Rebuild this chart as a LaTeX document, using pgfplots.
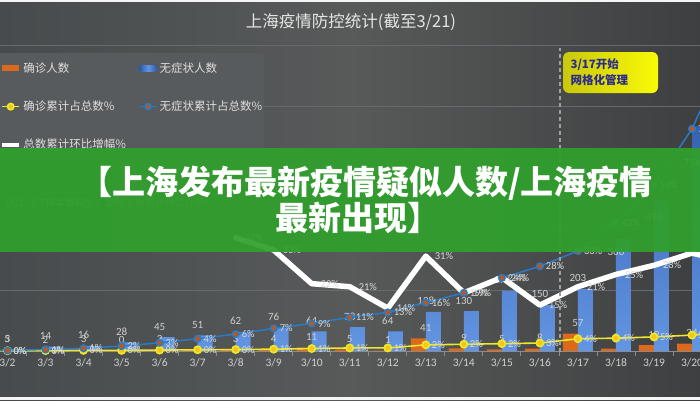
\documentclass[border=0pt]{standalone}
\usepackage{pgfplots}
\usepackage{pgfplotstable}
\pgfplotsset{compat=1.18}
\usepackage{fontspec}
\setmainfont{Carlito}
\newfontfamily\cjk{Noto Sans CJK SC}

\definecolor{bgA}{HTML}{474B4D}
\definecolor{bgB}{HTML}{585A5A}
\definecolor{bgC}{HTML}{3E3F40}
\definecolor{gridc}{HTML}{676A6C}
\definecolor{axc}{HTML}{8C8C8C}
\definecolor{txt}{HTML}{CFCFCF}
\definecolor{ptxt}{HTML}{DADADA}
\definecolor{legbg}{HTML}{575B5D}
\definecolor{legtxt}{HTML}{DEDEDE}
\definecolor{ttl}{HTML}{E4E4E4}
\definecolor{barO}{HTML}{DB6A1C}
\definecolor{barBt}{HTML}{2E5AA6}
\definecolor{barBb}{HTML}{6395E3}
\definecolor{lnY}{HTML}{EDE82A}
\definecolor{mkY}{HTML}{F6C51B}
\definecolor{lnB}{HTML}{2B7BC4}
\definecolor{mkB}{HTML}{C2561A}
\definecolor{banner}{HTML}{30A02C}
\definecolor{boxL}{HTML}{C9C80C}
\definecolor{boxR}{HTML}{FAFA05}
\definecolor{boxT}{HTML}{2B2B8F}
\definecolor{notec}{HTML}{9A9A9A}

\pgfplotstableread{
x conf asym dy
1 1 1 0
2 3 5 0
3 2 14 0
4 3 16 0
5 0 28 0
6 3 45 0
7 4 51 0
8 3 62 0
9 4 76 0
10 11 64 0
11 5 78 0
12 1 64 0
13 41 128 0
14 9 130 0
15 5 197 0
16 8 150 0
17 57 203 0
18 8 366 -24
19 19 492 -27
20 24 734 -47
21 31 865 0
}\bars

\pgfplotstableread{
x cp ap
1 0.02 0.02
2 0.1 0.15
3 0.15 0.5
4 0.2 0.9
5 0.2 1.6
6 0.3 2.7
7 0.4 4.0
8 0.47 5.5
9 0.6 7.4
10 0.8 9.0
11 1.0 11.0
12 1.0 12.6
13 2.0 15.8
14 2.2 19.0
15 2.4 23.9
16 2.6 27.7
17 4.0 32.7
18 4.2 41.9
19 4.6 54.1
20 5.2 72.6
21 6.0 100
}\pct

\pgfplotstableread{
x gr
8 37
9 33
10 22
11 21
12 14
13 31
14 19
15 24
16 15
17 21
18 25
19 28
20 32
21 29
}\growth

\begin{document}
\begin{tikzpicture}
\useasboundingbox (0pt,0pt) rectangle (700pt,400pt);
\clip (0pt,0pt) rectangle (700pt,400pt);
\shade[left color=bgA, right color=bgC, middle color=bgB] (0pt,0pt) rectangle (700pt,400pt);

\begin{axis}[
  at={(0pt,49pt)}, anchor=south west,
  width=700pt, height=306pt, scale only axis,
  xmin=1.803, xmax=20.21, ymin=0, ymax=1000,
  clip=false,
  axis x line*=bottom, axis y line*=left,
  y axis line style={draw=none},
  x axis line style={draw=axc, line width=0.8pt},
  xtick={2,...,20},
  xticklabels={3/2,3/3,3/4,3/5,3/6,3/7,3/8,3/9,3/10,3/11,3/12,3/13,3/14,3/15,3/16,3/17,3/18,3/19,3/20},
  minor xtick={1.5,2.5,...,20.5},
  ytick={0,200,...,1000}, yticklabels={},
  ymajorgrids, grid style={draw=gridc, line width=0.6pt},
  major tick length=0pt, minor tick length=5pt, tick align=outside,
  minor tick style={draw=axc, line width=0.8pt},
  xticklabel style={font=\fontsize{11.5}{13}\selectfont, text=txt, yshift=-4pt},
  legend columns=2,
  legend cell align=left,
  legend style={
    at={(axis description cs:0,0.975)}, anchor=north west,
    fill=legbg, draw=none,
    inner xsep=0pt, inner ysep=8pt,
    font=\cjk\fontsize{11.5}{13}\selectfont, text=legtxt,
    row sep=23pt,
    /tikz/every even column/.append style={column sep=11pt},
  },
]
\addplot[ybar, bar width=15pt, bar shift=-7.5pt, draw=none, fill=barO,
  legend image code/.code={\fill[barO] (0pt,-3pt) rectangle (17pt,3pt);},
  nodes near coords={\pgfmathprintnumber[assume math mode=true]{\pgfplotspointmeta}},
  point meta=y,
  every node near coord/.append style={anchor=south, yshift=3.5pt,
     font=\fontsize{11}{13}\selectfont, text=txt}]
  table[x=x,y=conf]{\bars};
\addlegendentry{确诊人数}
\addplot[ybar, bar width=15pt, bar shift=7.5pt, draw=none, top color=barBt, bottom color=barBb,
  legend image code/.code={\fill[left color=barBt, right color=barBt, middle color=barBb] (0pt,-3pt) rectangle (17pt,3pt);},
  nodes near coords={\pgfmathprintnumber[assume math mode=true]{\pgfplotspointmeta}},
  point meta=y,
  visualization depends on={\thisrow{dy}\as\dy},
  every node near coord/.append style={anchor=south, yshift=\dy pt+3.5pt,
     font=\fontsize{11}{13}\selectfont, text=txt}]
  table[x=x,y=asym]{\bars};
\addlegendentry{无症状人数}
\addlegendimage{line legend, draw=lnY, line width=1.6pt, mark=*, mark size=3.2pt, mark options={draw=none, fill=mkY}}
\addlegendentry{确诊累计占总数\%}
\addlegendimage{line legend, draw=lnB, line width=1.6pt, mark=*, mark size=3pt, mark options={draw=none, fill=mkB}}
\addlegendentry{无症状累计占总数\%}
\addlegendimage{line legend, draw=white, line width=4pt}
\addlegendentry{总数累计环比增幅\%}
\end{axis}

\begin{axis}[
  at={(0pt,49pt)}, anchor=south west,
  width=700pt, height=306pt, scale only axis,
  xmin=1.803, xmax=20.21, ymin=0, ymax=100,
  clip=false, hide axis,
]
\addplot[draw=lnY, line width=1.6pt, mark=*, mark size=3.6pt, mark options={draw=none, fill=mkY},
  nodes near coords={\pgfmathprintnumber[assume math mode=true,fixed,precision=0]{\pgfplotspointmeta}\%},
  point meta=y,
  every node near coord/.append style={anchor=west, xshift=2pt, font=\fontsize{10.5}{12}\selectfont, text=ptxt}]
  table[x=x,y=cp]{\pct};
\addplot[draw=lnB, line width=1.5pt, mark=*, mark size=3.3pt, mark options={draw=none, fill=mkB},
  nodes near coords={\pgfmathprintnumber[assume math mode=true,fixed,precision=0]{\pgfplotspointmeta}\%},
  point meta=y,
  every node near coord/.append style={anchor=west, xshift=2pt, font=\fontsize{10.5}{12}\selectfont, text=ptxt}]
  table[x=x,y=ap]{\pct};
\addplot[draw=white, line width=5.5pt, line join=round, line cap=round,
  nodes near coords={\pgfmathprintnumber[assume math mode=true,fixed,precision=0]{\pgfplotspointmeta}\%},
  point meta=y,
  every node near coord/.append style={anchor=west, xshift=3pt, font=\fontsize{10.5}{12}\selectfont, text=ptxt}]
  table[x=x,y=gr]{\growth};
\end{axis}

% 3/17 marker and annotation
\draw[draw=gray!75, line width=1.3pt, dash pattern=on 4pt off 3pt] (560pt,48pt) -- (560pt,352pt);
\shade[left color=boxL, right color=boxR, rounded corners=6pt] (563pt,307pt) rectangle (658pt,348pt);
\node[anchor=west, text=boxT, font=\cjk\bfseries\fontsize{11.5}{16}\selectfont, align=left] at (567pt,328pt) {3/17开始\\网格化管理};

% title
\node[text=ttl, font=\cjk\fontsize{16.5}{18}\selectfont] at (351pt,378pt) {上海疫情防控统计(截至3/21)};

% note under banner
\node[anchor=east, text=notec, font=\cjk\fontsize{10}{12}\selectfont] at (212pt,197pt) {(3/1\textasciitilde3/7样本数较少，忽略总数累计环比计算)};

% banner
\fill[banner, opacity=0.93] (0pt,148pt) rectangle (700pt,252pt);
\node[text=white, font=\cjk\bfseries\fontsize{33}{36}\selectfont] at (366pt,217pt) {【上海发布最新疫情疑似人数/上海疫情};
\node[text=white, font=\cjk\bfseries\fontsize{33}{36}\selectfont] at (358pt,182pt) {最新出现】};

% frame strips
\fill[white!92!gray] (0pt,0pt) rectangle (700pt,3pt);
\fill[white!92!gray] (0pt,397.5pt) rectangle (700pt,400pt);
\end{tikzpicture}
\end{document}
